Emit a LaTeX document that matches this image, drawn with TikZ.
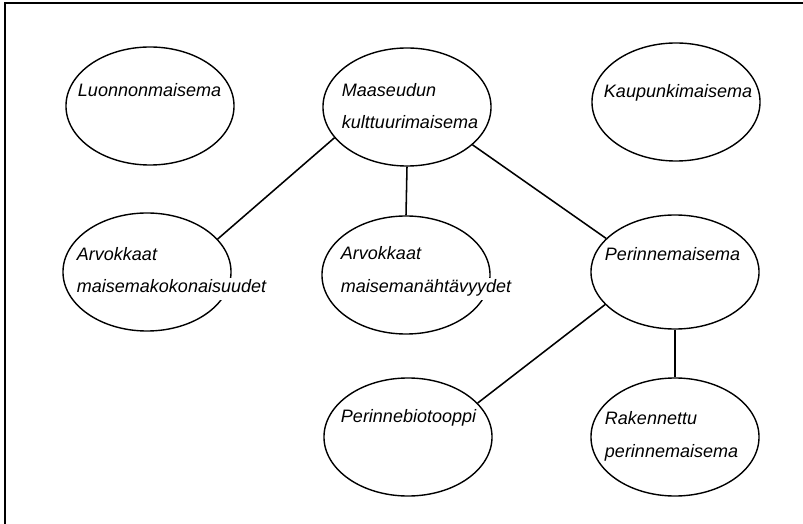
\documentclass[tikz,border=0pt]{standalone}
\usepackage{fontspec}
\setmainfont{Liberation Sans}
\usetikzlibrary{shapes.geometric}

\begin{document}
\begin{tikzpicture}[x=0.025cm,y=-0.025cm,
  field/.style={ellipse,draw,line width=1pt,minimum width=4.2cm,minimum height=2.95cm,inner sep=0pt},
  word/.style={anchor=base west,fill=white,inner xsep=0.5pt,inner ysep=3pt,text height=0.75em,text depth=0.2em,font=\fontsize{12.8}{15}\selectfont\itshape},
  link/.style={line width=1.1pt}]

\useasboundingbox (0,0) rectangle (803,524);
\draw[line width=1.3pt] (5,524) -- (5,3) -- (803,3);

\node[field] (luonto) at (150,106) {};
\node[field] (maaseutu) at (407,107) {};
\node[field] (kaupunki) at (676,102) {};
\node[field] (kokonaisuus) at (147,272) {};
\node[field] (nahtavyys) at (406,275) {};
\node[field,minimum height=2.85cm] (perinne) at (675,272) {};
\node[field] (biotooppi) at (408,437) {};
\node[field] (rakennettu) at (675,437) {};

\node[word] (luontoA) at (77,97) {Luonnonmaisema};
\node[word] (maaseutuA) at (341,97) {Maaseudun};
\node[word] (maaseutuB) at (341,129) {kulttuurimaisema};
\node[word] (kaupunkiA) at (603,98) {Kaupunkimaisema};
\node[word] (kokonaisuusA) at (76,261) {Arvokkaat};
\node[word] (kokonaisuusB) at (76,293) {maisemakokonaisuudet};
\node[word] (nahtavyysA) at (340,260) {Arvokkaat};
\node[word] (nahtavyysB) at (340,293) {maisemanähtävyydet};
\node[word] (perinneA) at (604,261) {Perinnemaisema};
\node[word] (biotooppiA) at (340,423) {Perinnebiotooppi};
\node[word] (rakennettuA) at (604,424) {Rakennettu};
\node[word] (rakennettuB) at (604,457) {perinnemaisema};

\draw[link] (maaseutu.203) -- (kokonaisuus.25);
\draw[link] (maaseutu.south) -- (nahtavyys.north);
\draw[link] (maaseutu.330) -- (perinne.154);
\draw[link] (perinne.205) -- (biotooppi.26);
\draw[link] (perinne.south) -- (rakennettu.north);
\end{tikzpicture}
\end{document}
